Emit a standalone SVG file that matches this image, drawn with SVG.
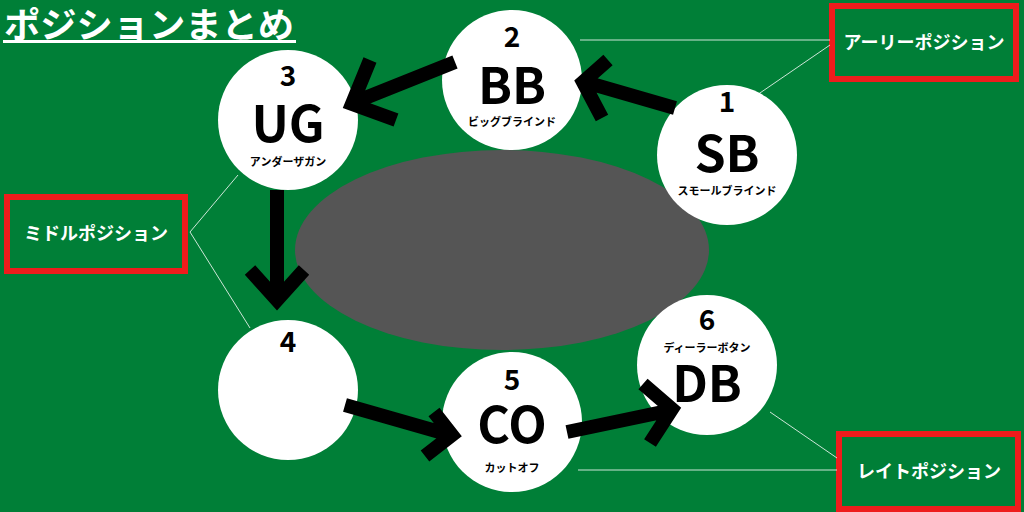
<svg xmlns="http://www.w3.org/2000/svg" width="1024" height="512" viewBox="0 0 1024 512">
<style>
.c{fill:#fff}
.t{font-family:"Noto Sans CJK JP","Noto Sans",sans-serif;font-weight:bold;fill:#000;text-anchor:middle}
.w{font-family:"Noto Sans CJK JP",sans-serif;font-weight:bold;fill:#fff}
.box{fill:none;stroke:#ee1c1c;stroke-width:6}
.ln{stroke:#fff;stroke-width:1;fill:none;opacity:0.8}
.ar{stroke:#000;stroke-width:14;fill:none;stroke-linejoin:miter}
</style>
<rect width="1024" height="512" fill="#007f37"/>
<text class="w" x="4" y="38" font-size="35" textLength="290" lengthAdjust="spacingAndGlyphs">ポジションまとめ</text>
<rect x="3" y="40" width="293" height="3" fill="#fff"/>
<ellipse cx="502" cy="250" rx="207" ry="100" fill="#555"/>
<g id="labels">
<rect class="box" x="832" y="6" width="184" height="73"/>
<text class="w" x="924" y="49" font-size="18" text-anchor="middle">アーリーポジション</text>
<rect class="box" x="7" y="197" width="178" height="74"/>
<text class="w" x="96" y="240" font-size="18" text-anchor="middle">ミドルポジション</text>
<rect class="box" x="839" y="434" width="179" height="75"/>
<text class="w" x="929" y="478" font-size="18" text-anchor="middle">レイトポジション</text>
</g>
<g id="n1"><circle class="c" cx="727" cy="155" r="70"/><text class="t" x="727" y="112" font-size="28">1</text><text class="t" x="727" y="172" font-size="50">SB</text><text class="t" x="727" y="195" font-size="11">スモールブラインド</text></g>
<g id="n2"><circle class="c" cx="512" cy="80" r="70"/><text class="t" x="512" y="47" font-size="28">2</text><text class="t" x="512" y="104" font-size="50">BB</text><text class="t" x="512" y="126" font-size="11">ビッグブラインド</text></g>
<g id="n3"><circle class="c" cx="288" cy="120" r="70"/><text class="t" x="288" y="86" font-size="28">3</text><text class="t" x="288" y="142" font-size="50">UG</text><text class="t" x="288" y="166" font-size="11">アンダーザガン</text></g>
<g id="n4"><circle class="c" cx="288" cy="390" r="70"/><text class="t" x="288" y="352" font-size="28">4</text></g>
<g id="n5"><circle class="c" cx="512" cy="422" r="70"/><text class="t" x="512" y="390" font-size="28">5</text><text class="t" x="512" y="443" font-size="50">CO</text><text class="t" x="512" y="472" font-size="11">カットオフ</text></g>
<g id="n6"><circle class="c" cx="707" cy="365" r="70"/><text class="t" x="707" y="330" font-size="28">6</text><text class="t" x="707" y="352" font-size="11">ディーラーボタン</text><text class="t" x="707" y="402" font-size="50">DB</text></g>
<g id="connectors">
<path class="ln" d="M580 40H830M757 95L830 45M190 232L238 175M190 232L250 328M770 412L837 458M578 470H837"/>
<path class="ar" d="M675 108L585 82M608 60L583 82L602 118"/>
<path class="ar" d="M455 62L355 102M370 60L352 104L396 120"/>
<path class="ar" d="M277 190V298M250 270L277 300L304 270"/>
<path class="ar" d="M345 405L450 435M425 456L452 435L434 412"/>
<path class="ar" d="M567 432L672 410M643 384L672 409L650 443"/>
</g>
</svg>
